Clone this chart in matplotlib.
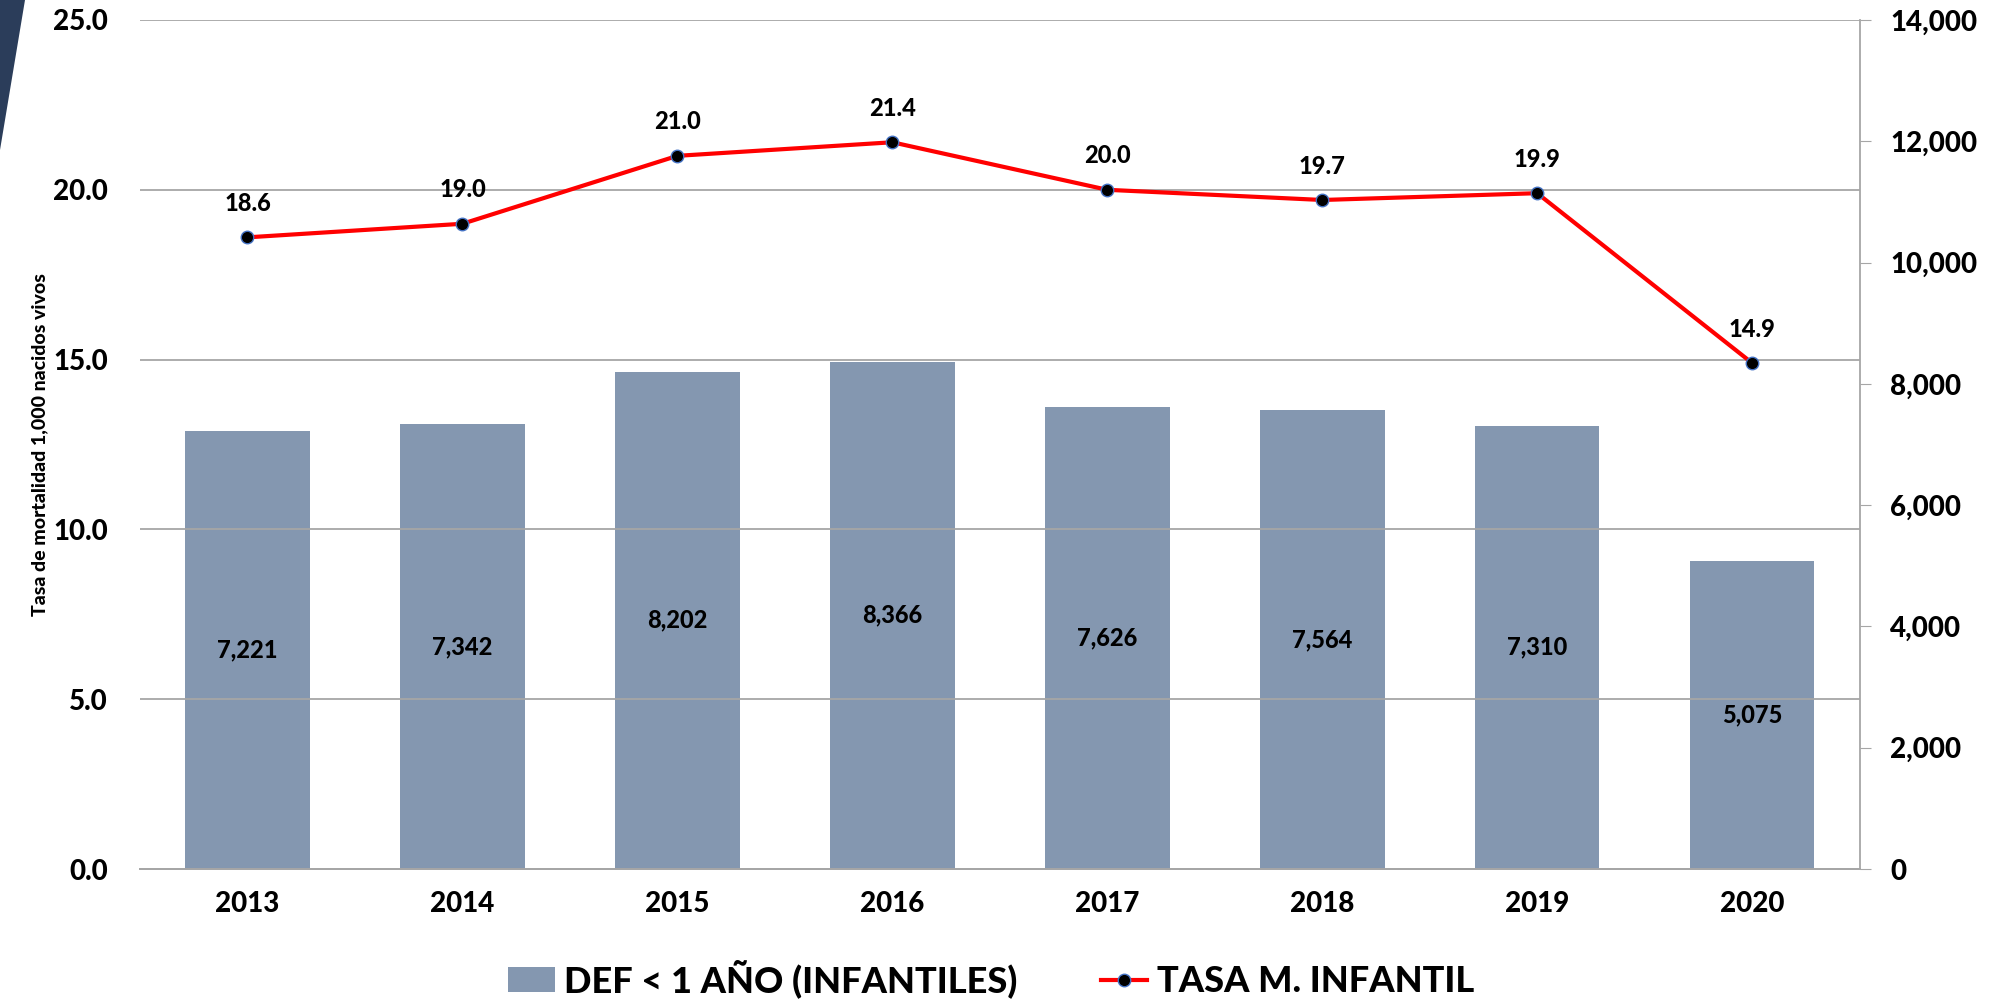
import matplotlib
matplotlib.use("Agg")
import matplotlib.pyplot as plt
import numpy as np
from matplotlib.patches import Polygon, Patch
from matplotlib.lines import Line2D
from matplotlib.ticker import FuncFormatter, MultipleLocator

plt.rcParams['font.family'] = ['Lato', 'DejaVu Sans']
plt.rcParams['font.weight'] = 'black'

# ========== DATOS ==========
years = ['2013', '2014', '2015', '2016', '2017', '2018', '2019', '2020']
deaths = [7221, 7342, 8202, 8366, 7626, 7564, 7310, 5075]
rates = [18.6, 19.0, 21.0, 21.4, 20.0, 19.7, 19.9, 14.9]

BAR_COLOR = '#8497b0'
GRID_COLOR = '#a6a6a6'
W = 'black'  # peso de fuente

fig = plt.figure(figsize=(20.06, 10), dpi=100)
ax = fig.add_axes([0.0698, 0.131, 0.8572, 0.849])
ax2 = ax.twinx()

x = np.arange(len(years))

# barras en el eje derecho (defunciones)
ax2.bar(x, deaths, width=0.58, color=BAR_COLOR, zorder=2)
for xi, d in zip(x, deaths):
    ax2.text(xi, d / 2, f"{d:,}", ha='center', va='center', fontsize=17,
             fontweight=W, color='black', zorder=5)
ax2.set_ylim(0, 14000)
ax2.yaxis.set_major_locator(MultipleLocator(2000))
ax2.yaxis.set_major_formatter(FuncFormatter(lambda v, p: f"{int(v):,}"))
ax2.tick_params(axis='y', labelsize=20, length=8, color=GRID_COLOR, pad=14)

# línea de tasa en el eje izquierdo, por encima de las barras
ax.set_zorder(ax2.get_zorder() + 1)
ax.patch.set_visible(False)
ax.plot(x, rates, color='#ff0000', linewidth=3, marker='o', markersize=9,
        markerfacecolor='black', markeredgecolor='#4472c4', markeredgewidth=1,
        zorder=4)
for xi, r in zip(x, rates):
    ax.text(xi, r + 1.0, f"{r:.1f}", ha='center', va='center', fontsize=17,
            fontweight=W, color='black')

ax.set_ylim(0, 25)
ax.set_xlim(-0.5, len(years) - 0.5)
ax.yaxis.set_major_locator(MultipleLocator(5))
ax.yaxis.set_major_formatter(FuncFormatter(lambda v, p: f"{v:.1f}"))
ax.tick_params(axis='y', labelsize=20, length=0, pad=23)
ax.set_xticks(x)
ax.set_xticklabels(years)
ax.tick_params(axis='x', labelsize=20, length=0, pad=16)
ax.grid(axis='y', color=GRID_COLOR, linewidth=1.3)
ax.set_ylabel('Tasa de mortalidad 1,000 nacidos vivos', fontsize=14,
              fontweight=W)
ax.yaxis.set_label_coords(-0.0535, 0.5)

for a in (ax, ax2):
    a.spines['top'].set_visible(False)
    a.spines['left'].set_visible(False)
    a.spines['right'].set_visible(False)
    a.spines['bottom'].set_color(GRID_COLOR)
    a.spines['bottom'].set_linewidth(1.3)
ax2.spines['right'].set_visible(True)
ax2.spines['right'].set_color(GRID_COLOR)
ax2.spines['right'].set_linewidth(1.3)

# leyenda
handles = [
    Patch(facecolor=BAR_COLOR, label='DEF < 1 AÑO (INFANTILES)'),
    Line2D([0], [0], color='#ff0000', linewidth=3, marker='o', markersize=9,
           markerfacecolor='black', markeredgecolor='#4472c4',
           label='TASA M. INFANTIL'),
]
fig.legend(handles=handles, loc='center', bbox_to_anchor=(0.494, 0.021),
           ncol=2, frameon=False, handlelength=1.3,
           handletextpad=0.25, columnspacing=2.3, prop={'weight': W, 'size': 26})

# forma decorativa en la esquina superior izquierda
fig.patches.append(Polygon([[0, 1], [25 / 2006, 1], [0, 1 - 150 / 1000]],
                           closed=True, transform=fig.transFigure,
                           facecolor='#2b3d5a', edgecolor='none'))

fig.savefig('out.png', dpi=100)
